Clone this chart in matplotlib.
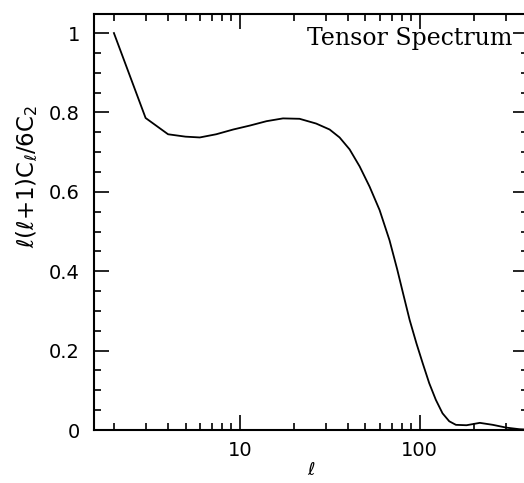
import matplotlib
matplotlib.use("Agg")
import matplotlib.pyplot as plt
from matplotlib.ticker import LogLocator, MultipleLocator, NullFormatter, FixedLocator, FixedFormatter

# multipole l and normalised tensor power l(l+1)C_l/6C_2
ell = [2, 3, 4, 5, 6, 7.4, 9.2, 11.4, 14.1, 17.4, 21.5, 26.6, 31.6, 35.9,
       40.8, 46.4, 52.7, 59.9, 68, 75, 81, 88, 96, 104, 113, 123, 134, 146,
       159, 182, 216, 255, 303, 358, 400]
power = [1.0, 0.786, 0.745, 0.739, 0.737, 0.745, 0.757, 0.767, 0.778, 0.785,
         0.784, 0.772, 0.757, 0.737, 0.707, 0.664, 0.613, 0.554, 0.478,
         0.405, 0.343, 0.277, 0.218, 0.168, 0.118, 0.076, 0.042, 0.022,
         0.013, 0.012, 0.018, 0.013, 0.006, 0.002, 0.001]

fig = plt.figure(figsize=(5.24, 4.83), dpi=100)
ax = fig.add_axes([94 / 524, 1 - 430 / 483, 434 / 524, 416 / 483])

ax.plot(ell, power, color='black', lw=1.3)

ax.set_xscale('log')
ax.set_xlim(1.55, 400)
ax.set_ylim(0, 1.048)

ax.xaxis.set_major_locator(FixedLocator([10, 100]))
ax.xaxis.set_major_formatter(FixedFormatter(['10', '100']))
ax.xaxis.set_minor_locator(LogLocator(base=10, subs=range(2, 10)))
ax.xaxis.set_minor_formatter(NullFormatter())
ax.yaxis.set_minor_locator(MultipleLocator(0.05))
ax.set_yticks([0, 0.2, 0.4, 0.6, 0.8, 1.0])
ax.set_yticklabels(['0', '0.2', '0.4', '0.6', '0.8', '1'])

ax.tick_params(which='both', direction='in', top=True, right=True, width=1.2)
ax.tick_params(which='major', length=11)
ax.tick_params(which='minor', length=5)
ax.tick_params(axis='y', which='major', labelsize=14, pad=10)
ax.tick_params(axis='x', which='major', labelsize=14, pad=8)
for s in ax.spines.values():
    s.set_linewidth(1.5)

ax.set_xlabel(r'$\ell$', fontsize=13)
ax.xaxis.set_label_coords(0.5, -0.075)
ax.set_ylabel(r'$\ell(\ell$+1)C$_\ell$/6C$_2$', fontsize=16.5)
ax.yaxis.set_label_coords(-0.124, 0.61)

ax.text(0.963, 0.925, 'Tensor Spectrum', transform=ax.transAxes,
        ha='right', va='baseline', fontsize=17, family='DejaVu Serif')

fig.savefig('out.png', dpi=100)
